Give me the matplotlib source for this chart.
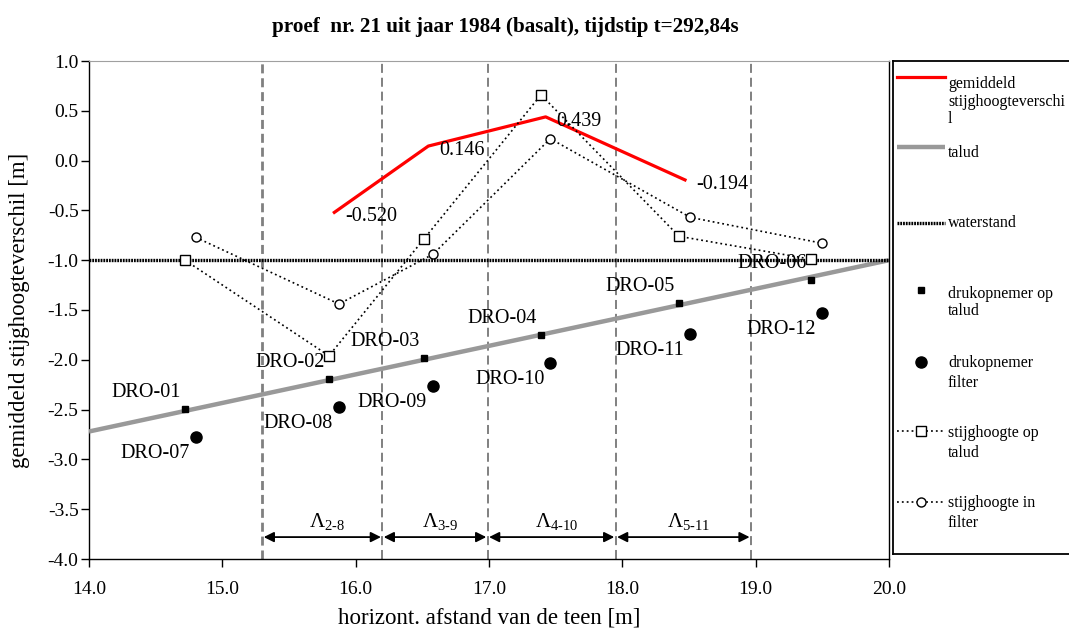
import matplotlib
matplotlib.use("Agg")
import matplotlib.pyplot as plt
from matplotlib.ticker import MultipleLocator, FormatStrFormatter

plt.rcParams["font.family"] = ["Liberation Serif", "DejaVu Serif"]
plt.rcParams["mathtext.fontset"] = "custom"
plt.rcParams["mathtext.rm"] = "Liberation Serif"
plt.rcParams["mathtext.it"] = "Liberation Serif:italic"
plt.rcParams["lines.scale_dashes"] = False

# ---- meetgegevens -------------------------------------------------------
namen_talud = ["DRO-01", "DRO-02", "DRO-03", "DRO-04", "DRO-05", "DRO-06"]
namen_filter = ["DRO-07", "DRO-08", "DRO-09", "DRO-10", "DRO-11", "DRO-12"]

x_opnemer_talud = [14.72, 15.80, 16.51, 17.39, 18.425, 19.415]
y_opnemer_talud = [-2.49, -2.19, -1.98, -1.75, -1.43, -1.20]

x_opnemer_filter = [14.80, 15.875, 16.58, 17.46, 18.51, 19.50]
y_opnemer_filter = [-2.775, -2.47, -2.26, -2.03, -1.74, -1.53]

stijghoogte_talud = [-1.00, -1.96, -0.79, 0.66, -0.76, -0.99]
stijghoogte_filter = [-0.77, -1.44, -0.94, 0.22, -0.57, -0.83]

x_gemiddeld = [15.84, 16.545, 17.425, 18.47]
y_gemiddeld = [-0.520, 0.146, 0.439, -0.194]

talud_x = [14.0, 20.0]
talud_y = [-2.72, -1.00]

waterstand_x = [14.0, 20.0]
waterstand_y = [-1.0, -1.0]

grenzen_x = [15.30, 16.20, 16.99, 17.95, 18.965]
lambda_namen = ["2-8", "3-9", "4-10", "5-11"]

# ---- figuur -------------------------------------------------------------
W, H = 1069, 640
fig = plt.figure(figsize=(W / 100, H / 100), dpi=100)
ax = fig.add_axes([89 / W, (H - 559) / H, 800 / W, 498 / H])

ax.set_xlim(14.0, 20.0)
ax.set_ylim(-4.0, 1.0)
ax.xaxis.set_major_locator(MultipleLocator(1.0))
ax.yaxis.set_major_locator(MultipleLocator(0.5))
ax.xaxis.set_major_formatter(FormatStrFormatter("%.1f"))
ax.yaxis.set_major_formatter(FormatStrFormatter("%.1f"))
ax.tick_params(axis="both", direction="out", length=6, width=1.0, labelsize=14)
ax.tick_params(axis="x", pad=9.5)
ax.tick_params(axis="y", pad=1.5)
for s in ("left", "bottom", "right"):
    ax.spines[s].set_color("black")
    ax.spines[s].set_linewidth(1.0)
ax.spines["top"].set_color("#a0a0a0")
ax.spines["top"].set_linewidth(0.8)

# gemiddeld stijghoogteverschil
ax.plot(x_gemiddeld, y_gemiddeld, color="#ff0000", lw=2.3, zorder=5)
for xv, yv in zip(x_gemiddeld, y_gemiddeld):
    ax.annotate(f"{yv:.3f}", (xv, yv), xytext=(11, -9), textcoords="offset pixels",
                ha="left", va="baseline", fontsize=14.5, zorder=6)

# talud en waterstand
ax.plot(talud_x, talud_y, color="#999999", lw=3.2, zorder=3, solid_capstyle="butt")
ax.plot(waterstand_x, waterstand_y, color="black", lw=2.4, dashes=(1.3, 0.7), zorder=4)

# grenzen tussen de vakken
for i, gx in enumerate(grenzen_x):
    ax.axvline(gx, color="#808080", lw=2.0 if i == 0 else 1.4, dashes=(6.5, 3.5), zorder=2)

# maatpijlen met Lambda
y_pijl = -3.78
for i, naam in enumerate(lambda_namen):
    x0, x1 = grenzen_x[i], grenzen_x[i + 1]
    ax.annotate("", xy=(x1, y_pijl), xytext=(x0, y_pijl),
                arrowprops=dict(arrowstyle="<|-|>", color="black", lw=1.3,
                                mutation_scale=15, shrinkA=1, shrinkB=1), zorder=6)
    ax.annotate(r"$\Lambda_{\text{" + naam + "}}$", ((x0 + x1) / 2, -3.68),
                xytext=(5, 0), textcoords="offset pixels",
                ha="center", va="baseline", fontsize=15, zorder=6)

# stijghoogten
ax.plot(x_opnemer_talud, stijghoogte_talud, color="black", lw=1.2, dashes=(1.3, 2.2),
        marker="s", ms=6.5, mfc="white", mec="black", mew=1.0, zorder=7)
ax.plot(x_opnemer_filter, stijghoogte_filter, color="black", lw=1.2, dashes=(1.3, 2.2),
        marker="o", ms=6.5, mfc="white", mec="black", mew=1.0, zorder=7)

# drukopnemers
ax.plot(x_opnemer_talud, y_opnemer_talud, ls="none", marker="s", ms=5,
        color="black", zorder=8)
ax.plot(x_opnemer_filter, y_opnemer_filter, ls="none", marker="o", ms=8,
        color="black", zorder=8)
for naam, xv, yv in zip(namen_talud, x_opnemer_talud, y_opnemer_talud):
    ax.annotate(naam, (xv, yv), xytext=(-4, 12), textcoords="offset pixels",
                ha="right", va="baseline", fontsize=14.5, zorder=9)
for naam, xv, yv in zip(namen_filter, x_opnemer_filter, y_opnemer_filter):
    ax.annotate(naam, (xv, yv), xytext=(-6, -21), textcoords="offset pixels",
                ha="right", va="baseline", fontsize=14.5, zorder=9)

# titel en aslabels
fig.text(505 / W, (H - 32) / H, "proef  nr. 21 uit jaar 1984 (basalt), tijdstip t=292,84s",
         ha="center", va="baseline", fontsize=15.2, fontweight="bold")
ax.set_xlabel("horizont. afstand van de teen [m]", fontsize=16.5)
ax.xaxis.set_label_coords(0.5, -0.097)
ax.set_ylabel("gemiddeld stijghoogteverschil [m]", fontsize=16.5)
ax.yaxis.set_label_coords(-0.074, 0.5)

# ---- legenda ------------------------------------------------------------
lg = fig.add_axes([893 / W, (H - 554) / H, 180 / W, 493 / H])
lg.set_xlim(0, 180)
lg.set_ylim(493, 0)
lg.set_xticks([])
lg.set_yticks([])
for s in lg.spines.values():
    s.set_linewidth(1.3)
    s.set_color("black")

hx = [4, 52]
mx = 28
tx = 55
fs_leg = 11.5

lg.plot(hx, [16, 16], color="#ff0000", lw=2.3)
lg.plot(hx, [86, 86], color="#999999", lw=3.2, solid_capstyle="butt")
lg.plot(hx, [162, 162], color="black", lw=2.4, dashes=(1.3, 0.7))
lg.plot([mx], [229], ls="none", marker="s", ms=5, color="black")
lg.plot([mx], [301], ls="none", marker="o", ms=8, color="black")
lg.plot(hx, [370, 370], color="black", lw=1.2, dashes=(1.3, 2.2))
lg.plot([mx], [370], ls="none", marker="s", ms=6.5, mfc="white", mec="black", mew=1.0)
lg.plot(hx, [441, 441], color="black", lw=1.2, dashes=(1.3, 2.2))
lg.plot([mx], [441], ls="none", marker="o", ms=6.5, mfc="white", mec="black", mew=1.0)

legenda_regels = [
    ("gemiddeld", 27), ("stijghoogteverschi", 44.5), ("l", 62),
    ("talud", 96),
    ("waterstand", 166),
    ("drukopnemer op", 237), ("talud", 254),
    ("drukopnemer", 306), ("filter", 326),
    ("stijghoogte op", 376), ("talud", 396),
    ("stijghoogte in", 446), ("filter", 466),
]
for tekst, yb in legenda_regels:
    lg.text(tx, yb, tekst, ha="left", va="baseline", fontsize=fs_leg)

fig.savefig("out.png", dpi=100)
